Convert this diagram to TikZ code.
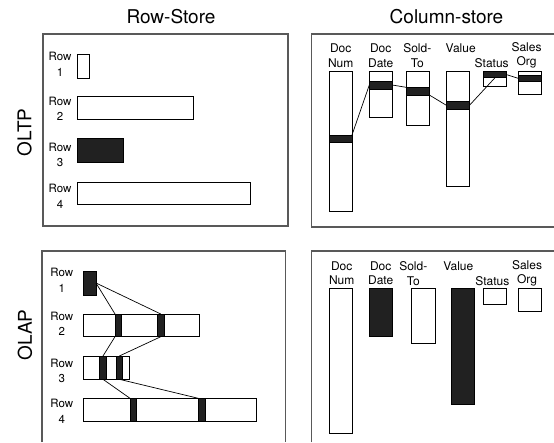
\documentclass[tikz,border=0pt]{standalone}
\usepackage{fontspec}
\setmainfont{TeX Gyre Heros}
\begin{document}
\begin{tikzpicture}[x=1pt, y=-1pt,
    every node/.style={font=\fontsize{12}{14.7}\selectfont, align=center, inner sep=0pt},
    moldura/.style={draw=black!65, line width=1.1pt},
    celula/.style={draw, line width=0.8pt, fill=white, anchor=north west, inner sep=0pt, outer sep=0pt},
    cheia/.style={celula, fill=black!87},
    faixa/.style={draw, line width=0.5pt, fill=black!87, anchor=north west, inner sep=0pt, outer sep=0pt},
    linha/.style={line width=0.7pt},
    rotulo/.style={font=\fontsize{11.5}{15.5}\selectfont},
    titulo/.style={font=\fontsize{19}{22}\selectfont}]
    \useasboundingbox (0,0) rectangle (554,442);

    % Molduras
    \draw[moldura] (43,34) rectangle (288,226);
    \draw[moldura] (554,227) -| (311.7,34) -- (554,34);
    \draw[moldura] (42,442) |- (285.7,251) -- (285.7,442);
    \draw[moldura] (311.7,442) |- (554,251);

    % Titulos
    \node[titulo] (trow) at (171,17) {Row-Store};
    \node[titulo] (tcol) at (446.5,17) {Column-store};
    \node[titulo, rotate=90] (oltp) at (24.5,132.5) {OLTP};
    \node[titulo, rotate=90] (olap) at (25,335) {OLAP};

    % OLTP - linhas
    \node[rotulo] (l1) at (60,64.3) {Row\\1};
    \node[rotulo] (l2) at (60,109) {Row\\2};
    \node[rotulo] (l3) at (60,155) {Row\\3};
    \node[rotulo] (l4) at (60,196.5) {Row\\4};
    \node[celula, minimum width=12pt, minimum height=24pt] (r1) at (77,54) {};
    \node[celula, minimum width=116pt, minimum height=22.3pt] (r2) at (77,96.7) {};
    \node[cheia, minimum width=46pt, minimum height=24pt] (r3) at (77,138) {};
    \node[celula, minimum width=173pt, minimum height=22pt] (r4) at (77,182) {};

    % OLTP - colunas
    \node (hnum) at (340.7,55.4) {Doc\\Num};
    \node (hdate) at (380.7,55.4) {Doc\\Date};
    \node (hsold) at (417.3,55.4) {Sold-\\To};
    \node (hval) at (460.7,48) {Value};
    \node (hstat) at (491.7,62.7) {Status};
    \node (horg) at (526.5,55.4) {Sales\\Org};
    \node[celula, minimum width=22.7pt, minimum height=140pt] (cnum) at (329.3,71.7) {};
    \node[celula, minimum width=23pt, minimum height=45.6pt] (cdate) at (369.3,71.7) {};
    \node[celula, minimum width=23.3pt, minimum height=54pt] (csold) at (406,71.7) {};
    \node[celula, minimum width=22.6pt, minimum height=114.3pt] (cval) at (446.7,71.7) {};
    \node[celula, minimum width=23.4pt, minimum height=15pt] (cstat) at (483.3,71.7) {};
    \node[celula, minimum width=22.7pt, minimum height=22.6pt] (corg) at (518.3,71.7) {};
    \node[faixa, minimum width=22.7pt, minimum height=7.7pt] (bnum) at (329.3,135) {};
    \node[faixa, minimum width=23pt, minimum height=8pt] (bdate) at (369.3,81) {};
    \node[faixa, minimum width=23.3pt, minimum height=7.7pt] (bsold) at (406,87.3) {};
    \node[faixa, minimum width=22.6pt, minimum height=7.6pt] (bval) at (446.7,101.7) {};
    \node[faixa, minimum width=23.4pt, minimum height=6pt] (bstat) at (483.3,71.7) {};
    \node[faixa, minimum width=22.7pt, minimum height=6.7pt] (borg) at (518.3,75) {};
    \draw[linha] (bnum.north east) -- (bdate.west);
    \draw[linha] (bdate.east) -- (bsold.north west);
    \draw[linha] (bsold.south east) -- (bval.west);
    \draw[linha] (bval.east) -- (bstat.south);
    \draw[linha] (bstat.east) -- (borg.west);

    % OLAP - linhas
    \node[rotulo] (m1) at (61.7,280.5) {Row\\1};
    \node[rotulo] (m2) at (61.7,324) {Row\\2};
    \node[rotulo] (m3) at (61.7,371) {Row\\3};
    \node[rotulo] (m4) at (61.7,411.5) {Row\\4};
    \node[cheia, minimum width=12.7pt, minimum height=24pt] (s1) at (83.3,271) {};
    \node[celula, minimum width=116pt, minimum height=22.7pt] (s2) at (83.3,314) {};
    \node[celula, minimum width=46pt, minimum height=23.3pt] (s3) at (83.3,356) {};
    \node[celula, minimum width=173.4pt, minimum height=22.7pt] (s4) at (83.3,398.3) {};
    \node[faixa, minimum width=6.7pt, minimum height=22.7pt] (f2a) at (115,314) {};
    \node[faixa, minimum width=7pt, minimum height=22.7pt] (f2b) at (157.3,314) {};
    \node[faixa, minimum width=7.4pt, minimum height=23.3pt] (f3a) at (99.3,356) {};
    \node[faixa, minimum width=6.7pt, minimum height=23.3pt] (f3b) at (116,356) {};
    \node[faixa, minimum width=6.7pt, minimum height=22.7pt] (f4a) at (130,398.3) {};
    \node[faixa, minimum width=7.4pt, minimum height=22.7pt] (f4b) at (198.3,398.3) {};
    \draw[linha] (s1.east) -- (f2a.north west);
    \draw[linha] (s1.east) -- (f2b.north);
    \draw[linha] (f2a.south west) -- (f3a.north);
    \draw[linha] (f2b.south) -- (f3b.north);
    \draw[linha] (f3a.south) -- (f4a.north west);
    \draw[linha] (f3b.south) -- (f4b.north west);

    % OLAP - colunas
    \node (gnum) at (341.7,273.3) {Doc\\Num};
    \node (gdate) at (380.7,273.3) {Doc\\Date};
    \node (gsold) at (413.3,273.3) {Sold-\\To};
    \node (gval) at (458.3,266) {Value};
    \node (gstat) at (492.3,280.7) {Status};
    \node (gorg) at (527,273.3) {Sales\\Org};
    \node[celula, minimum width=22.7pt, minimum height=145pt] (dnum) at (329.3,288.7) {};
    \node[cheia, minimum width=23pt, minimum height=48pt] (ddate) at (369.3,288.7) {};
    \node[celula, minimum width=23.3pt, minimum height=54.6pt] (dsold) at (411.7,288.7) {};
    \node[cheia, minimum width=23pt, minimum height=115.3pt] (dval) at (451,288.7) {};
    \node[celula, minimum width=22.7pt, minimum height=15.3pt] (dstat) at (483.3,288.7) {};
    \node[celula, minimum width=23pt, minimum height=22.6pt] (dorg) at (518.3,288.7) {};
\end{tikzpicture}
\end{document}
